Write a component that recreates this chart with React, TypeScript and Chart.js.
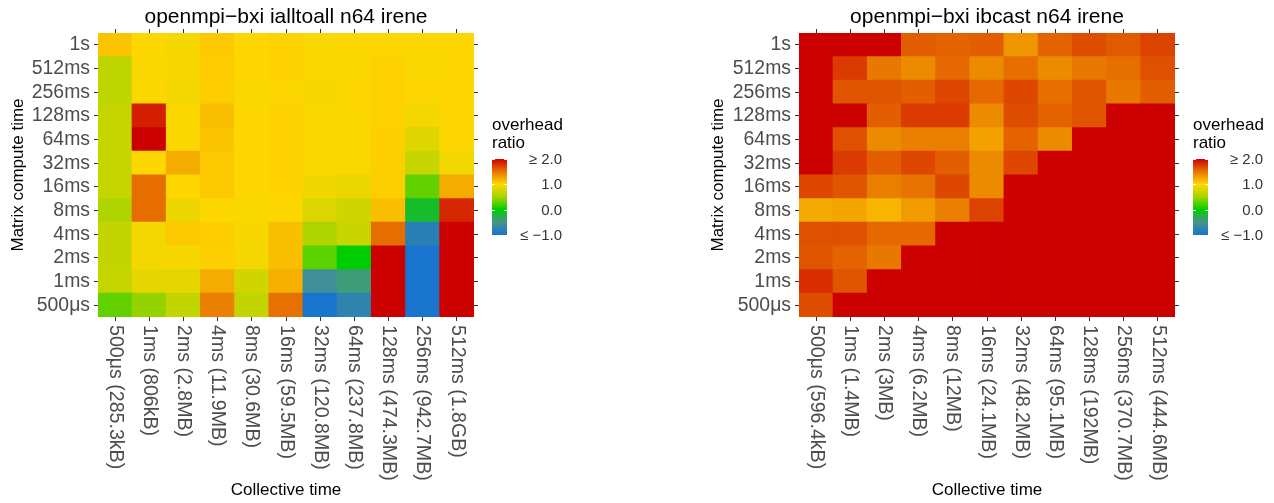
import React, { useEffect, useRef } from 'react';
import { Chart, registerables } from 'chart.js';

Chart.register(...registerables);

const FONT = '"Liberation Sans", Arial, Helvetica, sans-serif';

// Row labels, top to bottom (Matrix compute time)
const rowLabels = ['1s', '512ms', '256ms', '128ms', '64ms', '32ms', '16ms', '8ms', '4ms', '2ms', '1ms', '500μs'];

// Column labels (Collective time)
const leftColLabels = [
  '500μs (285.3kB)', '1ms (806kB)', '2ms (2.8MB)', '4ms (11.9MB)', '8ms (30.6MB)', '16ms (59.5MB)',
  '32ms (120.8MB)', '64ms (237.8MB)', '128ms (474.3MB)', '256ms (942.7MB)', '512ms (1.8GB)',
];
const rightColLabels = [
  '500μs (596.4kB)', '1ms (1.4MB)', '2ms (3MB)', '4ms (6.2MB)', '8ms (12MB)', '16ms (24.1MB)',
  '32ms (48.2MB)', '64ms (95.1MB)', '128ms (192MB)', '256ms (370.7MB)', '512ms (444.6MB)',
];

// Overhead ratio, rows top (1s) to bottom (500μs); values >= 2 shown clamped
const ialltoallValues: number[][] = [
  [1.10, 1.00, 0.95, 1.07, 1.00, 1.03, 0.97, 1.00, 1.00, 1.00, 1.00],
  [0.64, 0.97, 0.96, 1.06, 1.00, 1.03, 0.98, 0.97, 1.03, 0.97, 1.00],
  [0.64, 0.98, 0.94, 1.05, 0.97, 1.00, 0.96, 1.00, 1.03, 1.00, 1.00],
  [0.68, 1.87, 0.98, 1.13, 1.00, 1.03, 0.97, 1.00, 1.03, 0.94, 1.00],
  [0.68, 2.00, 0.97, 1.10, 1.00, 1.03, 0.97, 0.98, 1.04, 0.81, 1.00],
  [0.68, 1.00, 1.22, 1.07, 1.00, 1.03, 0.98, 0.98, 1.04, 0.69, 0.93],
  [0.68, 1.54, 1.00, 1.07, 1.00, 1.02, 0.92, 0.89, 1.04, 0.30, 1.22],
  [0.56, 1.54, 0.90, 1.00, 0.98, 1.00, 0.80, 0.74, 1.13, -0.15, 1.83],
  [0.66, 0.94, 1.07, 1.05, 0.96, 1.12, 0.56, 0.70, 1.54, -0.81, 2.00],
  [0.66, 0.94, 0.96, 1.04, 0.94, 1.13, 0.28, 0.00, 2.00, -1.00, 2.00],
  [0.68, 0.86, 0.86, 1.22, 0.74, 1.20, -0.58, -0.43, 2.00, -1.00, 2.00],
  [0.30, 0.45, 0.66, 1.45, 0.66, 1.52, -1.00, -0.77, 2.00, -1.00, 2.00],
];

const ibcastValues: number[][] = [
  [2.00, 2.00, 2.00, 1.60, 1.58, 1.60, 1.34, 1.58, 1.68, 1.62, 1.72],
  [2.00, 1.75, 1.49, 1.39, 1.56, 1.39, 1.53, 1.39, 1.49, 1.53, 1.66],
  [2.00, 1.64, 1.64, 1.60, 1.70, 1.56, 1.70, 1.53, 1.64, 1.49, 1.60],
  [2.00, 2.00, 1.60, 1.75, 1.75, 1.39, 1.68, 1.58, 1.64, 2.00, 2.00],
  [2.00, 1.66, 1.39, 1.46, 1.46, 1.28, 1.58, 1.39, 2.00, 2.00, 2.00],
  [2.00, 1.75, 1.60, 1.70, 1.60, 1.39, 1.70, 2.00, 2.00, 2.00, 2.00],
  [1.70, 1.64, 1.46, 1.51, 1.70, 1.39, 2.00, 2.00, 2.00, 2.00, 2.00],
  [1.23, 1.26, 1.18, 1.31, 1.46, 1.72, 2.00, 2.00, 2.00, 2.00, 2.00],
  [1.66, 1.66, 1.56, 1.56, 2.00, 2.00, 2.00, 2.00, 2.00, 2.00, 2.00],
  [1.64, 1.58, 1.49, 2.00, 2.00, 2.00, 2.00, 2.00, 2.00, 2.00, 2.00],
  [1.81, 1.64, 2.00, 2.00, 2.00, 2.00, 2.00, 2.00, 2.00, 2.00, 2.00],
  [1.68, 2.00, 2.00, 2.00, 2.00, 2.00, 2.00, 2.00, 2.00, 2.00, 2.00],
];

const legendTickValues = [2, 1, 0, -1];
const legendTickLabels = ['≥ 2.0', '1.0', '0.0', '≤ −1.0'];

// colour scale stops (value -> rgb)
const colorStops: [number, number[]][] = [
  [-1.0, [24, 116, 205]],
  [-0.5, [72, 148, 140]],
  [0.0, [0, 205, 0]],
  [0.5, [165, 212, 0]],
  [1.0, [255, 215, 0]],
  [1.5, [232, 118, 0]],
  [2.0, [205, 0, 0]],
];

function colorFor(v: number): string {
  const c = Math.max(-1, Math.min(2, v));
  for (let i = 0; i < colorStops.length - 1; i++) {
    const [v0, c0] = colorStops[i];
    const [v1, c1] = colorStops[i + 1];
    if (c >= v0 && c <= v1) {
      const t = (c - v0) / (v1 - v0);
      const rgb = c0.map((a, k) => Math.round(a + (c1[k] - a) * t));
      return `rgb(${rgb[0]},${rgb[1]},${rgb[2]})`;
    }
  }
  const last = colorStops[colorStops.length - 1][1];
  return `rgb(${last[0]},${last[1]},${last[2]})`;
}

type Plot = { left: number; right: number; top: number; bottom: number };

function HeatPanel(props: {
  title: string;
  colLabels: string[];
  values: number[][];
  width: number;
  height: number;
  plot: Plot;
}) {
  const { title, colLabels, values, width, height, plot } = props;
  const ref = useRef<HTMLCanvasElement>(null);

  useEffect(() => {
    if (!ref.current) return;
    const rowsBottomUp = [...values].reverse();
    const labelsBottomUp = [...rowLabels].reverse();
    const nRows = rowLabels.length;

    const datasets = rowsBottomUp.map((row, r) => ({
      label: labelsBottomUp[r],
      data: row.map(() => 1),
      backgroundColor: row.map(colorFor),
      borderWidth: 0,
      inflateAmount: 0.5,
      barPercentage: 1,
      categoryPercentage: 1,
    }));

    const setYTicks = (scale: any) => {
      scale.ticks = labelsBottomUp.map((_, i) => ({ value: i + 0.5 }));
    };

    const tickGrid = {
      display: true,
      drawOnChartArea: false,
      drawTicks: true,
      tickLength: 4,
      offset: false,
      color: '#333333',
      lineWidth: 1,
    };

    const overlay = {
      id: 'overlay',
      afterDraw(chart: any) {
        const ctx = chart.ctx as CanvasRenderingContext2D;
        const area = chart.chartArea;
        const xs = chart.scales.x;
        ctx.save();
        // title
        ctx.fillStyle = '#000000';
        ctx.font = `21px ${FONT}`;
        ctx.textAlign = 'center';
        ctx.textBaseline = 'middle';
        ctx.fillText(title, (area.left + area.right) / 2, 17);

        // rotated x tick labels (reading top to bottom)
        ctx.font = `19.6px ${FONT}`;
        ctx.fillStyle = '#4D4D4D';
        ctx.textAlign = 'left';
        ctx.textBaseline = 'middle';
        colLabels.forEach((lab, i) => {
          const x = xs.getPixelForValue(i);
          ctx.save();
          ctx.translate(x, area.bottom + 8);
          ctx.rotate(Math.PI / 2);
          ctx.fillText(lab, 0, 0);
          ctx.restore();
        });

        // legend
        const lx = area.right + 18;
        const barW = 15;
        const vTop = 2;
        const vBot = -1;
        const yTop = 159;
        const yBot = 235;
        const yFor = (v: number) => yTop + ((vTop - v) / (vTop - vBot)) * (yBot - yTop);
        ctx.fillStyle = '#000000';
        ctx.font = `17px ${FONT}`;
        ctx.textAlign = 'left';
        ctx.textBaseline = 'middle';
        ctx.fillText('overhead', lx, 125);
        ctx.fillText('ratio', lx, 143);

        const grad = ctx.createLinearGradient(0, yTop, 0, yBot);
        for (let k = 0; k <= 60; k++) {
          const v = vTop - (k / 60) * (vTop - vBot);
          grad.addColorStop(k / 60, colorFor(v));
        }
        ctx.fillStyle = grad;
        ctx.fillRect(lx, yTop, barW, yBot - yTop);

        ctx.strokeStyle = 'rgba(255,255,255,0.9)';
        ctx.lineWidth = 1;
        legendTickValues.forEach((v) => {
          const y = Math.round(yFor(v)) + 0.5;
          ctx.beginPath();
          ctx.moveTo(lx, y);
          ctx.lineTo(lx + 3, y);
          ctx.moveTo(lx + barW - 3, y);
          ctx.lineTo(lx + barW, y);
          ctx.stroke();
        });

        ctx.fillStyle = '#333333';
        ctx.font = `15px ${FONT}`;
        ctx.textAlign = 'right';
        legendTickValues.forEach((v, i) => {
          ctx.fillText(legendTickLabels[i], area.right + 88, yFor(v) + 1);
        });
        ctx.restore();
      },
    };

    const chart = new Chart(ref.current, {
      type: 'bar',
      data: { labels: colLabels, datasets: datasets as any },
      plugins: [overlay],
      options: {
        responsive: false,
        animation: false,
        events: [],
        layout: { padding: 0 },
        plugins: {
          legend: { display: false },
          title: { display: false },
          tooltip: { enabled: false },
        },
        scales: {
          x: {
            type: 'category',
            position: 'bottom',
            stacked: true,
            offset: true,
            grid: tickGrid,
            border: { display: false },
            ticks: { display: false },
            title: {
              display: true,
              text: 'Collective time',
              color: '#000000',
              font: { family: FONT, size: 17 },
              padding: { top: 0, bottom: 2 },
            },
            afterFit: (s: any) => {
              s.height = height - plot.bottom;
            },
          },
          x2: {
            type: 'category',
            position: 'top',
            offset: true,
            grid: tickGrid,
            border: { display: false },
            ticks: { display: false },
            afterFit: (s: any) => {
              s.height = plot.top;
            },
          },
          y: {
            type: 'linear',
            position: 'left',
            stacked: true,
            min: 0,
            max: nRows,
            afterBuildTicks: setYTicks,
            grid: tickGrid,
            border: { display: false },
            ticks: {
              autoSkip: false,
              padding: 4,
              color: '#4D4D4D',
              font: { family: FONT, size: 19.4 },
              callback: (v: any) => labelsBottomUp[Math.round(Number(v) - 0.5)] ?? '',
            },
            title: {
              display: true,
              text: 'Matrix compute time',
              color: '#000000',
              font: { family: FONT, size: 17 },
              padding: { top: 8, bottom: 0 },
            },
            afterFit: (s: any) => {
              s.width = plot.left;
            },
          },
          y2: {
            type: 'linear',
            position: 'right',
            min: 0,
            max: nRows,
            afterBuildTicks: setYTicks,
            grid: tickGrid,
            border: { display: false },
            ticks: { display: false },
            afterFit: (s: any) => {
              s.width = width - plot.right;
            },
          },
        },
      } as any,
    });
    return () => chart.destroy();
  }, [title, colLabels, values, width, height, plot]);

  return <canvas ref={ref} width={width} height={height} style={{ display: 'block', width, height }} />;
}

const leftPlot: Plot = { left: 98, right: 474, top: 33, bottom: 317 };
const rightPlot: Plot = { left: 99, right: 475, top: 33, bottom: 317 };

export default function App() {
  return (
    <div style={{ position: 'fixed', left: 0, top: 0, width: 1274, height: 503, background: '#ffffff' }}>
      <div style={{ position: 'absolute', left: 0, top: 0 }}>
        <HeatPanel
          title="openmpi−bxi ialltoall n64 irene"
          colLabels={leftColLabels}
          values={ialltoallValues}
          width={700}
          height={503}
          plot={leftPlot}
        />
      </div>
      <div style={{ position: 'absolute', left: 700, top: 0 }}>
        <HeatPanel
          title="openmpi−bxi ibcast n64 irene"
          colLabels={rightColLabels}
          values={ibcastValues}
          width={574}
          height={503}
          plot={rightPlot}
        />
      </div>
    </div>
  );
}
